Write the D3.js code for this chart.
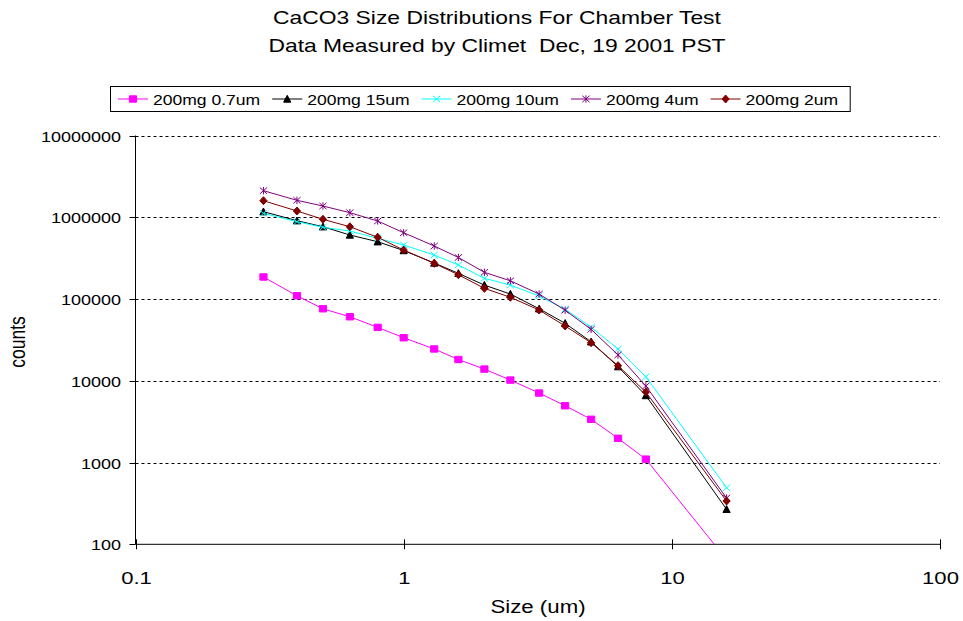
<!DOCTYPE html>
<html>
<head>
<meta charset="utf-8">
<title>CaCO3 size distributions</title>
<script src="https://d3js.org/d3.v7.min.js"></script>
<style>
  body { margin: 0; background: #fff; }
  text { font-family: "Liberation Sans", Arial, sans-serif; fill: #000; white-space: pre; }
</style>
</head>
<body>
<script>
// particle size channels (um)
const sizes = [0.3, 0.4, 0.5, 0.63, 0.8, 1.0, 1.3, 1.6, 2.0, 2.5, 3.2, 4.0, 5.0, 6.3, 8.0, 16];

// counts
const mg07 = [186000, 109600, 76000, 60700, 45000, 33600, 24500, 18200, 13900, 10200, 7080, 4950, 3380, 1980, 1100, 65];
const mg15 = [1170000, 908000, 766000, 607000, 502000, 392000, 276000, 206000, 148000, 115000, 76000, 50500, 30000, 14900, 6600, 268];
const mg10 = [1117000, 883000, 754000, 679000, 553000, 458000, 345000, 261000, 179000, 148000, 109000, 75000, 45100, 24500, 11200, 492];
const mg4 = [2113000, 1612000, 1373000, 1137000, 900000, 647000, 445000, 322000, 212000, 167000, 115000, 73000, 42600, 20700, 8630, 368];
const mg2 = [1594000, 1193000, 944000, 766000, 569000, 397000, 273000, 198000, 135000, 105000, 73300, 46800, 29200, 15300, 7280, 338];

const seriesNames = ["200mg 0.7um", "200mg 15um", "200mg 10um", "200mg 4um", "200mg 2um"];
const xTicks = [0.1, 1, 10, 100];
const yTicks = [100, 1000, 10000, 100000, 1000000, 10000000];

const series = [
    { name: seriesNames[0], values: mg07, color: "#ff00ff", marker: "square" },
    { name: seriesNames[1], values: mg15, color: "#000000", marker: "triangle" },
    { name: seriesNames[2], values: mg10, color: "#00ffff", marker: "x" },
    { name: seriesNames[3], values: mg4, color: "#800080", marker: "star" },
    { name: seriesNames[4], values: mg2, color: "#800000", marker: "diamond" }
];

const width = 963, height = 621;
const plotL = 135.5, plotR = 940, plotT = 135.5, plotB = 544.3;
const SX = 1.27; // the original picture is stretched sideways

const x = d3.scaleLog().domain([0.1, 100]).range([plotL, plotR]);
const y = d3.scaleLog().domain([100, 10000000]).range([plotB, plotT]);

const svg = d3.select("body").append("svg")
    .attr("width", width).attr("height", height);

function label(g, px, py, str, size, anchor, sx) {
    return g.append("text")
        .attr("transform", `translate(${px},${py}) scale(${sx},1)`)
        .attr("text-anchor", anchor)
        .style("font-size", size + "px")
        .text(str);
}

function markerPath(type) {
    const hx = 3.6, hy = 3.2;
    if (type == "square") return `M${-hx},${-hy}H${hx}V${hy}H${-hx}Z`;
    if (type == "triangle") return `M0,${-hy - 0.5}L${hx},${hy}L${-hx},${hy}Z`;
    if (type == "diamond") return `M0,${-hy - 0.8}L${hx},0L0,${hy + 0.8}L${-hx},0Z`;
    if (type == "x") return `M${-hx},${-hy}L${hx},${hy}M${-hx},${hy}L${hx},${-hy}`;
    return `M${-hx},${-hy}L${hx},${hy}M${-hx},${hy}L${hx},${-hy}M0,${-hy - 0.5}V${hy + 0.5}`;
}

function drawMarker(g, type, color) {
    const filled = type == "square" || type == "triangle" || type == "diamond";
    return g.append("path")
        .attr("d", markerPath(type))
        .attr("fill", filled ? color : "none")
        .attr("stroke", color)
        .attr("stroke-width", 1);
}

// title
label(svg, 497, 24, "CaCO3 Size Distributions For Chamber Test", 18, "middle", SX);
label(svg, 497, 52, "Data Measured by Climet  Dec, 19 2001 PST", 18, "middle", SX);

// gridlines
svg.append("g").selectAll("line")
    .data(yTicks.slice(1))
    .join("line")
    .attr("x1", plotL).attr("x2", plotR)
    .attr("y1", d => Math.round(y(d)) + 0.5).attr("y2", d => Math.round(y(d)) + 0.5)
    .attr("stroke", "#000").attr("stroke-dasharray", "3,3");

// y axis
const yAxisG = svg.append("g");
yAxisG.append("line")
    .attr("x1", plotL).attr("x2", plotL).attr("y1", plotT).attr("y2", plotB)
    .attr("stroke", "#000");
yTicks.forEach(t => {
    const ty = Math.round(y(t)) + 0.5;
    yAxisG.append("line").attr("x1", plotL - 6).attr("x2", plotL).attr("y1", ty).attr("y2", ty).attr("stroke", "#000");
    label(yAxisG, 121, ty + 5.5, String(t), 15, "end", 1.2);
});

// x axis
const xAxisG = svg.append("g");
xAxisG.append("line")
    .attr("x1", plotL).attr("x2", plotR).attr("y1", plotB).attr("y2", plotB)
    .attr("stroke", "#000");
xTicks.forEach(t => {
    const tx = Math.round(x(t)) + 0.5;
    xAxisG.append("line").attr("x1", tx).attr("x2", tx).attr("y1", plotB - 5).attr("y2", plotB + 5).attr("stroke", "#000");
    label(xAxisG, tx, 584, String(t), 17, "middle", 1.3);
});

// axis titles
label(svg, 538, 613, "Size (um)", 17.5, "middle", SX);
svg.append("text")
    .attr("transform", `translate(25,342) rotate(-90) scale(1,${SX})`)
    .attr("text-anchor", "middle")
    .style("font-size", "17.5px")
    .text("counts");

// plot
svg.append("clipPath").attr("id", "plotclip")
    .append("rect").attr("x", plotL).attr("y", plotT).attr("width", plotR - plotL).attr("height", plotB - plotT);

const plot = svg.append("g").attr("clip-path", "url(#plotclip)");
const line = d3.line().x(d => x(d[0])).y(d => y(d[1]));

series.forEach(s => {
    const pts = sizes.map((v, i) => [v, s.values[i]]);
    const g = plot.append("g");
    g.append("path")
        .datum(pts)
        .attr("fill", "none")
        .attr("stroke", s.color)
        .attr("stroke-width", 1)
        .attr("d", line);
    pts.forEach(p => {
        drawMarker(g, s.marker, s.color)
            .attr("transform", `translate(${x(p[0])},${y(p[1])})`);
    });
});

// legend
const legend = svg.append("g");
const box = legend.append("rect")
    .attr("x", 110.5).attr("y", 86.5).attr("height", 25)
    .attr("fill", "#fff").attr("stroke", "#000");
let lx = 118;
series.forEach(s => {
    const cy = 99;
    legend.append("line").attr("x1", lx).attr("x2", lx + 30).attr("y1", cy).attr("y2", cy)
        .attr("stroke", s.color).attr("stroke-width", 1);
    drawMarker(legend, s.marker, s.color).attr("transform", `translate(${lx + 15},${cy})`);
    const t = label(legend, lx + 35, cy + 5.5, s.name, 15, "start", 1.17);
    lx += 35 + t.node().getComputedTextLength() * 1.17 + 12;
});
box.attr("width", lx - 110.5);
</script>
</body>
</html>
